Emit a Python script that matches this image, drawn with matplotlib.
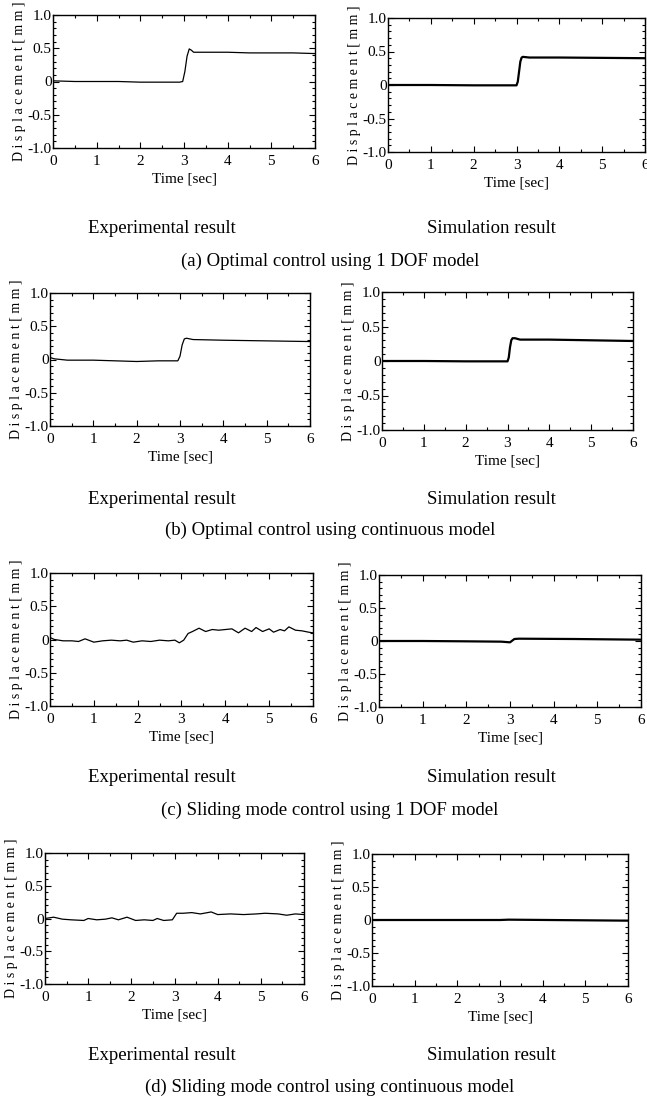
import matplotlib
matplotlib.use("Agg")
import matplotlib.pyplot as plt
from matplotlib.ticker import MultipleLocator

plt.rcParams["font.family"] = ["Liberation Serif", "DejaVu Serif"]

W, H = 647, 1106

# (a) optimal control, 1 DOF model
ta_exp = [0, 0.5, 1.0, 1.5, 2.0, 2.5, 2.9, 2.97, 3.02, 3.07, 3.12, 3.17, 3.22, 3.3, 3.6, 4.0, 4.5, 5.0, 5.5, 6.0]
ya_exp = [0.01, 0.0, 0.0, 0.0, -0.01, -0.01, -0.01, 0.0, 0.15, 0.38, 0.49, 0.47, 0.44, 0.44, 0.44, 0.44, 0.43, 0.43, 0.43, 0.42]
ta_sim = [0, 1, 2, 3.0, 3.03, 3.06, 3.09, 3.12, 3.15, 3.3, 4, 5, 6]
ya_sim = [0, 0, -0.005, -0.005, 0.05, 0.2, 0.35, 0.41, 0.42, 0.41, 0.41, 0.405, 0.40]

# (b) optimal control, continuous model
tb_exp = [0, 0.1, 0.4, 1.0, 1.5, 2.0, 2.5, 2.95, 3.0, 3.05, 3.1, 3.15, 3.3, 4.0, 5.0, 6.0]
yb_exp = [0.03, 0.01, -0.01, -0.01, -0.02, -0.03, -0.02, -0.02, 0.05, 0.22, 0.31, 0.32, 0.30, 0.29, 0.28, 0.27]
tb_sim = [0, 1, 2, 3.0, 3.03, 3.06, 3.09, 3.12, 3.18, 3.3, 4, 5, 6]
yb_sim = [0, 0, -0.005, -0.005, 0.05, 0.2, 0.3, 0.33, 0.33, 0.31, 0.31, 0.30, 0.29]

# (c) sliding mode control, 1 DOF model
tc_exp = [0.0, 0.1, 0.3, 0.5, 0.65, 0.8, 1.0, 1.2, 1.4, 1.6, 1.75, 1.9, 2.1, 2.3, 2.5, 2.7, 2.85, 2.95, 3.05, 3.15,
          3.25, 3.4, 3.55, 3.7, 3.85, 4.0, 4.15, 4.3, 4.45, 4.6, 4.7, 4.85, 5.0, 5.1, 5.25, 5.35, 5.45, 5.6, 5.75, 5.9, 6.0]
yc_exp = [0.03, 0.0, -0.02, -0.02, -0.03, 0.01, -0.04, -0.02, -0.01, -0.02, -0.01, -0.04, -0.02, -0.03, -0.01, -0.02, -0.01, -0.05, -0.01, 0.09,
          0.12, 0.17, 0.12, 0.15, 0.14, 0.15, 0.16, 0.10, 0.17, 0.12, 0.18, 0.12, 0.16, 0.11, 0.15, 0.13, 0.19, 0.14, 0.13, 0.11, 0.10]
tc_sim = [0, 1, 2, 2.8, 3.0, 3.1, 3.2, 4.5, 6]
yc_sim = [0.0, 0.0, -0.005, -0.01, -0.02, 0.03, 0.035, 0.03, 0.02]

# (d) sliding mode control, continuous model
td_exp = [0.0, 0.2, 0.4, 0.6, 0.9, 1.0, 1.2, 1.4, 1.55, 1.7, 1.9, 2.1, 2.3, 2.5, 2.6, 2.75, 2.95, 3.05, 3.2, 3.4,
          3.6, 3.85, 4.0, 4.3, 4.6, 4.9, 5.1, 5.4, 5.6, 5.8, 6.0]
yd_exp = [0.0, 0.02, -0.01, -0.02, -0.03, 0.0, -0.02, -0.01, 0.01, -0.02, 0.02, -0.03, -0.02, -0.03, 0.0, -0.03, -0.02, 0.08, 0.08, 0.09,
          0.07, 0.10, 0.06, 0.07, 0.06, 0.07, 0.08, 0.07, 0.05, 0.07, 0.06]
td_sim = [0, 3, 3.2, 6]
yd_sim = [0.0, 0.0, 0.005, -0.01]

captions = ["(a) Optimal control using 1 DOF model",
            "(b) Optimal control using continuous model",
            "(c) Sliding mode control using 1 DOF model",
            "(d) Sliding mode control using continuous model"]
yticks = [-1.0, -0.5, 0, 0.5, 1.0]
yticklabels = ["-1.0", "-0.5", "0", "0.5", "1.0"]

# axes boxes in pixels: (left, top, right, bottom)
boxes = [((53, 15, 315, 148), (388, 18, 645, 152)),
         ((50, 293, 310, 426), (382, 292, 633, 430)),
         ((50, 573, 313, 706), (379, 575, 641, 707)),
         ((45, 853, 304, 984), (372, 854, 628, 986))]
text_y = [(228, 261), (500, 530), (778, 810), (1056, 1087)]

series = [((ta_exp, ya_exp), (ta_sim, ya_sim)),
          ((tb_exp, yb_exp), (tb_sim, yb_sim)),
          ((tc_exp, yc_exp), (tc_sim, yc_sim)),
          ((td_exp, yd_exp), (td_sim, yd_sim))]

fig = plt.figure(figsize=(W / 100, H / 100), dpi=100)


def make_ax(box):
    l, t, r, b = box
    return fig.add_axes([l / W, 1 - b / H, (r - l) / W, (b - t) / H])


for row in range(4):
    for col in range(2):
        ax = make_ax(boxes[row][col])
        t, y = series[row][col]
        ax.plot(t, y, color="black", lw=0.9 if col == 0 else 1.6)
        ax.set_xlim(0, 6)
        ax.set_ylim(-1.0, 1.0)
        ax.xaxis.set_major_locator(MultipleLocator(1))
        ax.xaxis.set_minor_locator(MultipleLocator(0.5))
        ax.set_yticks(yticks)
        ax.set_yticklabels(yticklabels)
        ax.yaxis.set_minor_locator(MultipleLocator(0.1))
        ax.tick_params(which="both", direction="in", top=True, right=True,
                       labelsize=11, width=0.8)
        ax.tick_params(axis="x", pad=5)
        ax.tick_params(axis="y", pad=1)
        ax.tick_params(which="major", length=4)
        ax.tick_params(which="minor", length=2)
        for s in ax.spines.values():
            s.set_linewidth(1.0)
        ax.set_xlabel("Time [sec]", fontsize=11, labelpad=3)
        ax.set_ylabel("D i s p l a c e m e n t [ m m ]", fontsize=10, labelpad=1)

    ty_res, ty_cap = text_y[row]
    fig.text(162 / W, 1 - ty_res / H, "Experimental result", ha="center", va="center", fontsize=13.5)
    fig.text(491 / W, 1 - ty_res / H, "Simulation result", ha="center", va="center", fontsize=13.5)
    fig.text(330 / W, 1 - ty_cap / H, captions[row], ha="center", va="center", fontsize=13.5)

fig.savefig("out.png", dpi=100)
